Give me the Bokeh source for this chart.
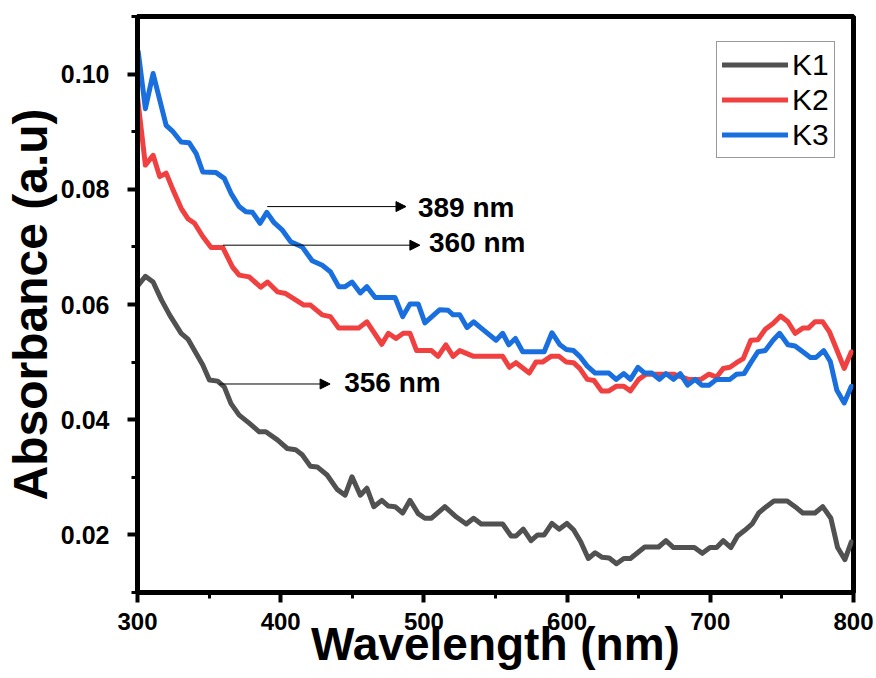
from bokeh.plotting import figure
from bokeh.models import (Range1d, FixedTicker, Legend, LegendItem, Label, Arrow, NormalHead)
from bokeh.embed import file_html
from bokeh.resources import INLINE

# ---------------- data ----------------
wl_k1 = [300, 305.5, 310.9, 316.7, 322.4, 330.5, 335.2, 341, 345.6, 350.2, 356, 360.6, 365.3, 371, 378,
         385, 389.6, 397.7, 404.6, 410.4, 415, 420.8, 425.5, 432.4, 439.4, 445, 449.8, 455.6, 460.2, 465,
         470.6, 475.2, 479.9, 485.2, 490.3, 496, 500.7, 505.3, 514.6, 522.7, 529.6, 534.7, 540, 555,
         560.9, 564.3, 569.4, 574.8, 579.4, 584, 589.4, 594.4, 599.8, 604.5, 609.5, 614.8, 619.6, 624.5,
         629.4, 634.5, 639.6, 644.2, 654.2, 663.9, 669, 674.3, 688.9, 694.4, 699.8, 704.4, 709, 714.4,
         719, 724.1, 729.2, 733.8, 739.1, 744.4, 753.7, 759.2, 764.6, 773.1, 778.5, 784.2, 788.9, 794,
         798.5]
abs_k1 = [0.0632, 0.0649, 0.0639, 0.0608, 0.0582, 0.0550, 0.0540, 0.0515, 0.0495, 0.0469, 0.0467, 0.0457,
          0.0428, 0.0408, 0.0394, 0.0379, 0.0379, 0.0365, 0.0350, 0.0348, 0.0339, 0.0319, 0.0318, 0.0304,
          0.0279, 0.0269, 0.0301, 0.0269, 0.0281, 0.0249, 0.0260, 0.0250, 0.0249, 0.0238, 0.0260, 0.0237,
          0.0229, 0.0229, 0.0249, 0.0231, 0.0219, 0.0229, 0.0219, 0.0219, 0.0198, 0.0198, 0.0210, 0.0190,
          0.0200, 0.0200, 0.0220, 0.0210, 0.0220, 0.0209, 0.0188, 0.0159, 0.0169, 0.0161, 0.0160, 0.0150,
          0.0159, 0.0159, 0.0179, 0.0179, 0.0190, 0.0178, 0.0178, 0.0168, 0.0178, 0.0178, 0.0190, 0.0178,
          0.0198, 0.0208, 0.0219, 0.0238, 0.0249, 0.0259, 0.0259, 0.0249, 0.0238, 0.0238, 0.0249, 0.0229,
          0.0178, 0.0157, 0.0188]

wl_k2 = [300, 305.5, 310.9, 315.5, 320, 324.8, 330.5, 335.2, 339.8, 345.6, 351.4, 359.5, 366.4, 371, 378,
         386, 390.8, 397.7, 403.5, 410.4, 416.2, 420.8, 429, 434.7, 440.5, 454.4, 460.2, 470.6, 475.2,
         480.5, 485.6, 490.3, 494.9, 505.3, 509.9, 515.3, 520.4, 525, 534.7, 555, 559.7, 564.3, 573.6,
         578.2, 582.8, 588.7, 594.4, 599.5, 604.5, 608.8, 614.1, 618.8, 624.1, 629.2, 634.2, 639.6, 644.2,
         650, 655.1, 674.3, 684.7, 693.5, 699.1, 704.4, 709, 713.7, 718.3, 723, 728.3, 733.3, 738.4, 743.8,
         749.1, 754.2, 759.2, 764.6, 768.5, 773.1, 778.5, 783.1, 788.4, 793.5, 798.5]
abs_k2 = [0.0960, 0.0842, 0.0859, 0.0822, 0.0828, 0.0799, 0.0767, 0.0749, 0.0741, 0.0718, 0.0699, 0.0699,
          0.0665, 0.0651, 0.0648, 0.0630, 0.0639, 0.0622, 0.0619, 0.0608, 0.0599, 0.0599, 0.0582, 0.0579,
          0.0559, 0.0559, 0.0570, 0.0531, 0.0550, 0.0541, 0.0550, 0.0550, 0.0520, 0.0520, 0.0510, 0.0530,
          0.0510, 0.0520, 0.0510, 0.0510, 0.0491, 0.0499, 0.0481, 0.0500, 0.0500, 0.0510, 0.0510, 0.0500,
          0.0499, 0.0489, 0.0470, 0.0468, 0.0450, 0.0450, 0.0458, 0.0458, 0.0450, 0.0470, 0.0479, 0.0479,
          0.0470, 0.0470, 0.0479, 0.0474, 0.0489, 0.0491, 0.0499, 0.0506, 0.0538, 0.0539, 0.0557, 0.0567,
          0.0580, 0.0570, 0.0550, 0.0559, 0.0559, 0.0570, 0.0570, 0.0553, 0.0521, 0.0489, 0.0518]

wl_k3 = [300.5, 305.5, 310.9, 320, 324.8, 330.5, 336, 341, 345.6, 354.9, 360.6, 365.3, 371, 375.7, 380.3,
         385.6, 390.3, 395.4, 401.2, 407, 415, 422, 429, 434.7, 440.5, 445, 449.8, 455.6, 460.2, 466,
         479.9, 485.2, 490.3, 496, 500.7, 511.1, 516.9, 520.4, 525, 530.1, 534.7, 540, 550.4, 555, 559.3,
         563.9, 569, 584, 589.4, 595, 599.5, 604.5, 608.8, 614.1, 619.6, 629.2, 634.2, 639.6, 644.2, 649.5,
         654.2, 659.2, 664.4, 669, 674.3, 679, 684.2, 689.4, 694, 699.1, 704.4, 713.7, 718.3, 723.6, 728.3,
         733.3, 738.4, 743.8, 748.4, 754.2, 759.2, 764.6, 769.9, 773.8, 779.2, 783.8, 788.4, 793.5, 798.5]
abs_k3 = [0.1039, 0.0940, 0.1001, 0.0911, 0.0900, 0.0882, 0.0881, 0.0862, 0.0830, 0.0829, 0.0819, 0.0793,
          0.0770, 0.0761, 0.0760, 0.0741, 0.0760, 0.0742, 0.0729, 0.0709, 0.0700, 0.0676, 0.0668, 0.0657,
          0.0631, 0.0631, 0.0639, 0.0620, 0.0631, 0.0612, 0.0612, 0.0579, 0.0601, 0.0601, 0.0568, 0.0591,
          0.0590, 0.0582, 0.0582, 0.0560, 0.0570, 0.0559, 0.0538, 0.0550, 0.0530, 0.0541, 0.0518, 0.0518,
          0.0551, 0.0530, 0.0522, 0.0520, 0.0510, 0.0493, 0.0481, 0.0481, 0.0470, 0.0480, 0.0470, 0.0491,
          0.0481, 0.0481, 0.0470, 0.0480, 0.0470, 0.0480, 0.0460, 0.0470, 0.0460, 0.0460, 0.0470, 0.0470,
          0.0479, 0.0480, 0.0499, 0.0518, 0.0520, 0.0538, 0.0550, 0.0530, 0.0528, 0.0518, 0.0508, 0.0508,
          0.0520, 0.0501, 0.0451, 0.0429, 0.0458]

series_names = ["K1", "K2", "K3"]
series_colors = ["#515151", "#F14040", "#1A6FDF"]

x_title = "Wavelength (nm)"
y_title = "Absorbance (a.u)"
x_ticks = [300, 400, 500, 600, 700, 800]
x_minor = [350, 450, 550, 650, 750]
y_ticks = [0.02, 0.04, 0.06, 0.08, 0.10]
y_tick_labels = ["0.02", "0.04", "0.06", "0.08", "0.10"]
y_minor = [0.01, 0.03, 0.05, 0.07, 0.09, 0.11]

# annotation arrows (start wl, level A, end wl) and their texts
ann_text = ["389 nm", "360 nm", "356 nm"]
ann_x0 = [390.6, 359.7, 357.1]
ann_y0 = [0.0770, 0.0703, 0.0462]
ann_x1 = [487.5, 497.2, 434.5]
ann_tx = [495.8, 503.5, 444.3]
ann_ty = [0.0769, 0.0708, 0.0465]

FONT = "Liberation Sans"

p = figure(width=874, height=676, output_backend="svg", toolbar_location=None,
           x_range=Range1d(300, 800), y_range=Range1d(0.01, 0.11),
           min_border_left=136, min_border_right=21, min_border_top=16, min_border_bottom=84)
p.background_fill_color = "white"
p.border_fill_color = "white"
p.outline_line_color = "black"
p.outline_line_width = 5
p.xgrid.visible = False
p.ygrid.visible = False

renderers = []
for xs, ys, c in zip([wl_k1, wl_k2, wl_k3], [abs_k1, abs_k2, abs_k3], series_colors):
    r = p.line(xs, ys, line_color=c, line_width=5, line_join="round", line_cap="round")
    renderers.append(r)

for ax in (p.xaxis[0], p.yaxis[0]):
    ax.axis_line_width = 5
    ax.axis_line_color = "black"
    ax.major_tick_line_width = 4
    ax.minor_tick_line_width = 3
    ax.major_tick_in = 0
    ax.major_tick_out = 10
    ax.minor_tick_in = 0
    ax.minor_tick_out = 6
    ax.major_label_text_font = FONT
    ax.major_label_text_font_style = "bold"
    ax.major_label_text_color = "black"
    ax.axis_label_text_font = FONT
    ax.axis_label_text_font_style = "bold"
    ax.axis_label_text_color = "black"

p.xaxis[0].ticker = FixedTicker(ticks=x_ticks, minor_ticks=x_minor)
p.xaxis[0].major_label_text_font_size = "24px"
p.xaxis[0].major_label_standoff = 10
p.xaxis[0].axis_label = x_title
p.xaxis[0].axis_label_text_font_size = "46px"
p.xaxis[0].axis_label_standoff = -15

p.yaxis[0].ticker = FixedTicker(ticks=y_ticks, minor_ticks=y_minor)
p.yaxis[0].major_label_overrides = {t: l for t, l in zip(y_ticks, y_tick_labels)}
p.yaxis[0].major_label_text_font_size = "25px"
p.yaxis[0].major_label_standoff = 18
p.yaxis[0].axis_label = y_title
p.yaxis[0].axis_label_text_font_size = "48px"
p.yaxis[0].axis_label_standoff = 1

# arrows and peak labels
for t, x0, y0, x1, tx, ty in zip(ann_text, ann_x0, ann_y0, ann_x1, ann_tx, ann_ty):
    p.add_layout(Arrow(x_start=x0, y_start=y0, x_end=x1, y_end=y0, line_width=1, line_color="black",
                       end=NormalHead(size=10, fill_color="black", line_color="black")))
    p.add_layout(Label(x=tx, y=ty, text=t, text_font=FONT, text_font_style="bold",
                       text_font_size="28px", text_align="left", text_baseline="middle",
                       text_color="black"))

legend = Legend(items=[LegendItem(label=n, renderers=[r]) for n, r in zip(series_names, renderers)],
                location=(579, 434), orientation="vertical",
                label_text_font=FONT, label_text_font_size="30px", label_text_color="black",
                glyph_width=66, glyph_height=35, label_height=35, label_standoff=4,
                padding=5, spacing=0, margin=0,
                border_line_color="#333333", border_line_width=1, background_fill_alpha=1.0)
p.add_layout(legend, "center")

open("out.html", "w").write(file_html(p, INLINE))
